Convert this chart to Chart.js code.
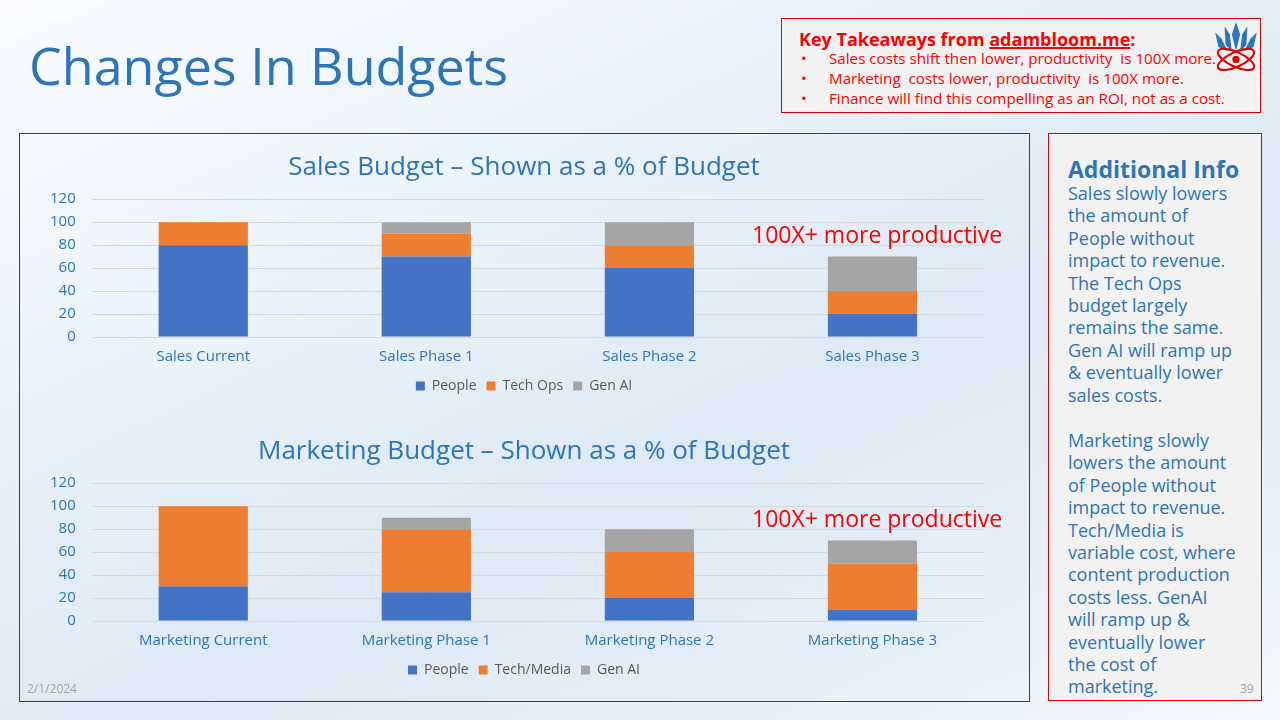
<!DOCTYPE html>
<html lang="en">
<head>
<meta charset="UTF-8">
<title>Changes In Budgets</title>
<script src="https://cdn.jsdelivr.net/npm/chart.js"></script>
<style>
  html, body { margin: 0; padding: 0; }
  body {
    width: 1280px; height: 720px; position: relative; overflow: hidden;
    font-family: "Open Sans", "Noto Sans", sans-serif;
    background: linear-gradient(155deg, #fbfdff 0%, #e9f1f9 35%, #dde9f5 60%, #eaf1f9 85%, #f6f9fd 100%);
  }
  .titulo { position: absolute; left: 29px; top: 29px; font-size: 52px; color: #2e75b6; white-space: nowrap; }
  .takeaways {
    position: absolute; left: 781px; top: 18px; width: 478px; height: 93px;
    border: 1px solid #e00000; background: #f2f2f2; color: #ff0000;
  }
  .takeaways h3 { margin: 0; position: absolute; left: 17px; top: 8px; font-size: 18px; font-weight: bold; }
  .takeaways h3 u { text-decoration-thickness: 2px; }
  .takeaways ul { margin: 0; padding: 0; list-style: none; position: absolute; left: 19px; top: 29px; font-size: 15.2px; line-height: 20px; }
  .takeaways li { white-space: pre; }
  .takeaways li span { display: inline-block; width: 28px; }
  .logo { position: absolute; left: 1212px; top: 20px; }
  .chartbox { position: absolute; left: 19px; top: 133px; width: 1009px; height: 567px; border: 1px solid #33405a; }
  canvas { position: absolute; }
  .prod { position: absolute; font-size: 23px; color: #ff0000; white-space: nowrap; }
  .info {
    position: absolute; left: 1048px; top: 133px; width: 212px; height: 566px;
    border: 1px solid #e00000; background: #f2f2f2; color: #2e75b6;
  }
  .info h4 { margin: 0; position: absolute; left: 19px; top: 19px; font-size: 23px; font-weight: bold; white-space: nowrap; }
  .info p { margin: 0; position: absolute; left: 19px; font-size: 18px; line-height: 22.4px; white-space: nowrap; }
  .rodape { position: absolute; font-size: 12px; color: #a6a6a6; }
</style>
</head>
<body>
  <div class="titulo">Changes In Budgets</div>

  <div class="takeaways">
    <h3>Key Takeaways from <u>adambloom.me</u>:</h3>
    <ul>
      <li><span>•</span>Sales costs shift then lower, productivity  is 100X more.</li>
      <li><span>•</span>Marketing  costs lower, productivity  is 100X more.</li>
      <li><span>•</span>Finance will find this compelling as an ROI, not as a cost.</li>
    </ul>
  </div>
  <svg class="logo" width="48" height="56" viewBox="0 0 46 54">
    <g fill="#2e75b6">
      <path d="M23 2 L27 14 L23 30 L19 14 Z"/>
      <path d="M12 6 L17 14 L19 30 L13 24 Z"/>
      <path d="M34 6 L29 14 L27 30 L33 24 Z"/>
      <path d="M3 12 L9 18 L15 30 L6 26 Z"/>
      <path d="M43 12 L37 18 L31 30 L40 26 Z"/>
    </g>
    <g fill="none" stroke="#e00000" stroke-width="2">
      <ellipse cx="23" cy="38" rx="19" ry="7" transform="rotate(25 23 38)"/>
      <ellipse cx="23" cy="38" rx="19" ry="7" transform="rotate(-25 23 38)"/>
      <circle cx="23" cy="38" r="2.5" fill="#e00000"/>
    </g>
  </svg>

  <div class="chartbox"></div>
  <canvas id="graficoVendas" width="1008" height="276" style="left:20px; top:134px;"></canvas>
  <canvas id="graficoMarketing" width="1008" height="276" style="left:20px; top:418px;"></canvas>
  <div class="prod" style="left:752px; top:218px;">100X+ more productive</div>
  <div class="prod" style="left:752px; top:502px;">100X+ more productive</div>

  <div class="info">
    <h4>Additional Info</h4>
    <p style="top:48px;">Sales slowly lowers<br>the amount of<br>People without<br>impact to revenue.<br>The Tech Ops<br>budget largely<br>remains the same.<br>Gen AI will ramp up<br>&amp; eventually lower<br>sales costs.</p>
    <p style="top:295px;">Marketing slowly<br>lowers the amount<br>of People without<br>impact to revenue.<br>Tech/Media is<br>variable cost, where<br>content production<br>costs less. GenAI<br>will ramp up &amp;<br>eventually lower<br>the cost of<br>marketing.</p>
  </div>

  <div class="rodape" style="left:27px; top:680px;">2/1/2024</div>
  <div class="rodape" style="left:1240px; top:680px;">39</div>

<script>
  // dados - vendas
  const categoriasVendas = ['Sales Current', 'Sales Phase 1', 'Sales Phase 2', 'Sales Phase 3'];
  const vendasPeople = [80, 70, 60, 20];
  const vendasTechOps = [20, 20, 20, 20];
  const vendasGenAI = [0, 10, 20, 30];

  // dados - marketing
  const categoriasMarketing = ['Marketing Current', 'Marketing Phase 1', 'Marketing Phase 2', 'Marketing Phase 3'];
  const marketingPeople = [30, 25, 20, 10];
  const marketingTechMedia = [70, 55, 40, 40];
  const marketingGenAI = [0, 10, 20, 20];

  const ticksY = [0, 20, 40, 60, 80, 100, 120];

  const azul = '#2e75b6';
  const fonte = '"Open Sans", "Noto Sans", sans-serif';

  function montarConfig(titulo, categorias, series) {
    return {
      type: 'bar',
      data: {
        labels: categorias,
        datasets: series.map(s => ({
          label: s.nome,
          data: s.dados,
          backgroundColor: s.cor,
          borderWidth: 0,
          barPercentage: 0.8,
          categoryPercentage: 0.5
        }))
      },
      options: {
        responsive: false,
        animation: false,
        layout: { padding: { left: 14, right: 14, top: 18, bottom: 7 } },
        plugins: {
          title: {
            display: true,
            text: titulo,
            color: azul,
            font: { family: fonte, size: 26, weight: 'normal' },
            padding: { top: 0, bottom: 16 }
          },
          legend: {
            position: 'bottom',
            labels: {
              color: '#595959',
              font: { family: fonte, size: 14 },
              boxWidth: 9, boxHeight: 9, padding: 10
            }
          },
          tooltip: { enabled: false }
        },
        scales: {
          x: {
            stacked: true,
            grid: { display: false },
            border: { display: false },
            ticks: { color: azul, font: { family: fonte, size: 15 }, padding: 3 }
          },
          y: {
            stacked: true,
            min: ticksY[0],
            max: ticksY[ticksY.length - 1],
            afterBuildTicks: eixo => { eixo.ticks = ticksY.map(v => ({ value: v })); },
            grid: { color: '#d9d9d9', drawTicks: false },
            border: { display: false },
            ticks: { color: azul, font: { family: fonte, size: 15 }, padding: 16 }
          },
          // eixo vazio à direita, só para reservar espaço
          direita: {
            position: 'right',
            grid: { display: false },
            border: { display: false },
            ticks: { display: false },
            afterFit: eixo => { eixo.width = 30; }
          }
        }
      }
    };
  }

  new Chart(document.getElementById('graficoVendas'), montarConfig(
    'Sales Budget \u2013 Shown as a % of Budget',
    categoriasVendas,
    [
      { nome: 'People', dados: vendasPeople, cor: '#4472c4' },
      { nome: 'Tech Ops', dados: vendasTechOps, cor: '#ed7d31' },
      { nome: 'Gen AI', dados: vendasGenAI, cor: '#a5a5a5' }
    ]
  ));

  new Chart(document.getElementById('graficoMarketing'), montarConfig(
    'Marketing Budget \u2013 Shown as a % of Budget',
    categoriasMarketing,
    [
      { nome: 'People', dados: marketingPeople, cor: '#4472c4' },
      { nome: 'Tech/Media', dados: marketingTechMedia, cor: '#ed7d31' },
      { nome: 'Gen AI', dados: marketingGenAI, cor: '#a5a5a5' }
    ]
  ));
</script>
</body>
</html>
